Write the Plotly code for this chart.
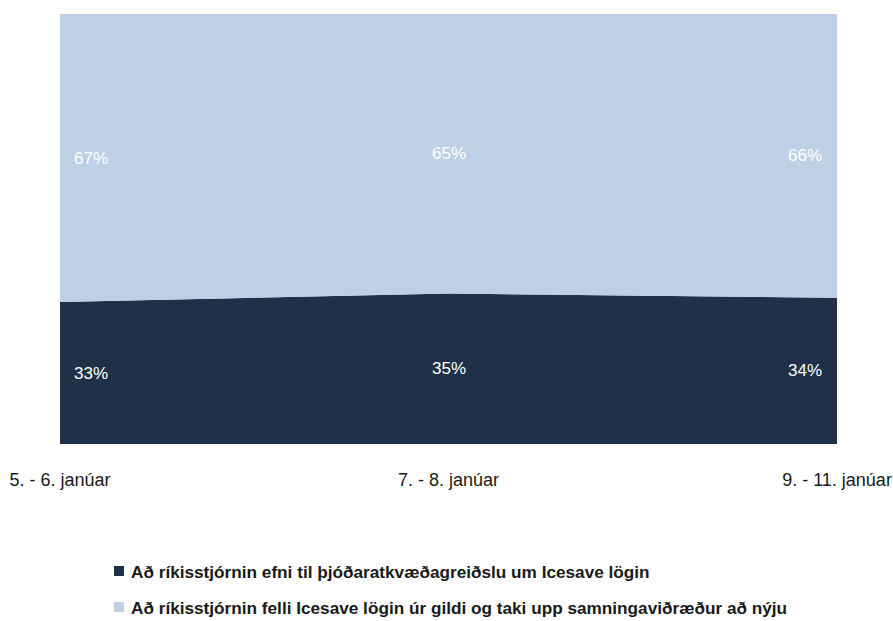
import plotly.graph_objects as go

categories = ["5. - 6. janúar", "7. - 8. janúar", "9. - 11. janúar"]
series_names = [
    "Að ríkisstjórnin efni til þjóðaratkvæðagreiðslu um Icesave lögin",
    "Að ríkisstjórnin felli Icesave lögin úr gildi og taki upp samningaviðræður að nýju",
]
referendum = [33, 35, 34]
repeal = [67, 65, 66]

dark = "#1f3048"
light = "#bed0e5"
FONT = "Liberation Sans, Arial, sans-serif"

fig = go.Figure()
fig.add_trace(go.Scatter(
    x=categories, y=referendum, name=series_names[0], stackgroup="one",
    mode="lines", line=dict(width=0, color=dark), fillcolor=dark,
    showlegend=False, hoverinfo="skip"))
fig.add_trace(go.Scatter(
    x=categories, y=repeal, name=series_names[1], stackgroup="one",
    mode="lines", line=dict(width=0, color=light), fillcolor=light,
    showlegend=False, hoverinfo="skip"))

anchors = ["left", "center", "right"]
xshift = [12, 0, -13]
for i, c in enumerate(categories):
    fig.add_annotation(x=i, y=referendum[i] / 2, text=f"{referendum[i]}%",
                       showarrow=False, xanchor=anchors[i], xshift=xshift[i],
                       font=dict(color="white", size=17, family=FONT))
    fig.add_annotation(x=i, y=referendum[i] + repeal[i] / 2, text=f"{repeal[i]}%",
                       showarrow=False, xanchor=anchors[i], xshift=xshift[i],
                       font=dict(color="white", size=17, family=FONT))

# legend drawn as squares + text below the plot
leg_sq_y = [-0.2953, -0.3791]
leg_tx_y = [-0.2977, -0.3814]
for k, (name, col) in enumerate(zip(series_names, [dark, light])):
    fig.add_shape(type="rect", xref="paper", yref="paper",
                  xsizemode="pixel", ysizemode="pixel",
                  xanchor=0.0759, yanchor=leg_sq_y[k],
                  x0=-5, x1=5, y0=-5, y1=5,
                  fillcolor=col, line=dict(width=0))
    fig.add_annotation(x=0.0914, y=leg_tx_y[k], xref="paper", yref="paper",
                       text=f"<b>{name}</b>", showarrow=False,
                       xanchor="left", yanchor="middle", xshift=-2,
                       font=dict(color="#1a1a1a", size=17.2, family=FONT))

fig.update_layout(
    width=893, height=621,
    margin=dict(l=60, r=56, t=14, b=177),
    paper_bgcolor="white", plot_bgcolor="white",
    font=dict(family=FONT, size=18, color="#1a1a1a"),
    xaxis=dict(type="category", range=[0, 2], showgrid=False, zeroline=False,
               showline=False, ticks="", ticklabelstandoff=23, automargin=False),
    yaxis=dict(range=[0, 100], visible=False, automargin=False),
    showlegend=False,
)

fig.write_html("out.html", config={"displayModeBar": False},
               post_script="document.body.style.margin='0';document.body.style.overflow='hidden';")
